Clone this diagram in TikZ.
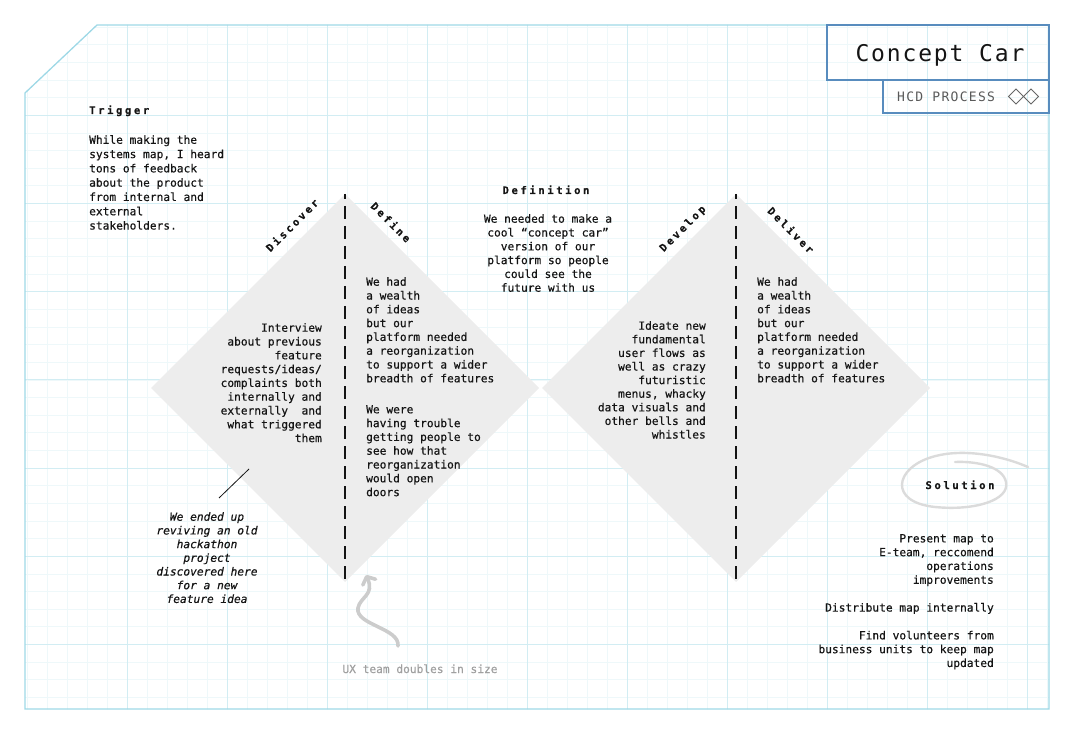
\documentclass[tikz,border=0pt]{standalone}
\usepackage{fontspec}
\usepackage{xcolor}
\setmonofont{DejaVu Sans Mono}[ItalicFont={DejaVu Sans Mono Oblique},BoldFont={DejaVu Sans Mono Bold},FakeBold=0.45]
\newfontfamily\headfont{DejaVu Sans Mono}[BoldFont={DejaVu Sans Mono Bold},LetterSpace=25,FakeBold=0.3]
\newfontfamily\titlefont{DejaVu Sans Mono}[LetterSpace=8]
\newfontfamily\tagfont{DejaVu Sans Mono}[LetterSpace=10]
\usetikzlibrary{arrows.meta}
\definecolor{framecyan}{RGB}{158,216,230}
\definecolor{gridmajor}{RGB}{210,237,243}
\definecolor{gridminor}{RGB}{238,248,250}
\definecolor{boxblue}{RGB}{88,140,190}
\definecolor{diamondgray}{RGB}{237,237,237}
\definecolor{ink}{RGB}{20,20,20}
\definecolor{softgray}{RGB}{160,160,160}
\definecolor{scribble}{RGB}{204,204,204}

\tikzset{
  heading/.style={font=\headfont\bfseries\fontsize{10.5}{12}\selectfont, text=ink, inner sep=0pt},
  body/.style={font=\ttfamily\fontsize{11.2}{13.8}\selectfont, text=ink, inner sep=0pt},
  divider/.style={line width=2.3pt, ink, dash pattern=on 13pt off 7pt, dash phase=8pt},
}

\begin{document}
\begin{tikzpicture}[x=1pt, y=-1pt]
        \useasboundingbox (0,0) rectangle (1077,738);

        % Raster
        \begin{scope}
            \clip (97,25) -- (1049,25) -- (1049,709) -- (25,709) -- (25,93) -- cycle;
            \foreach \gx in {27,47,...,1047} {
                \draw[gridminor, line width=0.6pt] (\gx,0) -- (\gx,738);
            }
            \foreach \gy in {-2,...,40} {
                \draw[gridminor, line width=0.6pt] (0,{27+17.64*\gy}) -- (1077,{27+17.64*\gy});
            }
            \foreach \gx in {127,227,...,1027} {
                \draw[gridmajor, line width=0.8pt] (\gx,0) -- (\gx,738);
            }
            \foreach \gy in {1,...,7} {
                \draw[gridmajor, line width=0.8pt] (0,{27+88.2*\gy}) -- (1077,{27+88.2*\gy});
            }
        \end{scope}

        % Kader
        \draw[framecyan, line width=1.3pt] (97,25) -- (1049,25) -- (1049,709) -- (25,709) -- (25,93) -- cycle;

        % Ruiten
        \coordinate (ltop) at (345,194);
        \coordinate (lbot) at (345,582);
        \coordinate (rtop) at (736,194);
        \coordinate (rbot) at (736,582);
        \fill[diamondgray] (ltop) -- (539,388) -- (lbot) -- (151,388) -- cycle;
        \fill[diamondgray] (rtop) -- (930,388) -- (rbot) -- (542,388) -- cycle;
        \draw[divider] (ltop) -- (lbot);
        \draw[divider] (rtop) -- (rbot);

        % Fasen
        \node[heading, rotate=45] (discover) at (292,225) {Discover};
        \node[heading, rotate=-45] (define) at (391,222) {Define};
        \node[heading, rotate=45] (develop) at (683,229) {Develop};
        \node[heading, rotate=-45] (deliver) at (791,230) {Deliver};

        % Titel
        \draw[boxblue, line width=1.2pt] (827,25) rectangle (1049,80);
        \draw[boxblue, line width=1.2pt] (883,80) rectangle (1049,113);
        \node[font=\titlefont\fontsize{23}{26}\selectfont, text=ink, inner sep=0pt, anchor=base] (title) at (940,62) {Concept Car};
        \node[font=\tagfont\fontsize{13}{15}\selectfont, text=black!65, inner sep=0pt, anchor=base west] (tag) at (897,102) {HCD PROCESS};
        \draw[black!60, line width=0.9pt] (1016,89) -- (1023.5,96.5) -- (1016,104) -- (1008.5,96.5) -- cycle;
        \draw[black!60, line width=0.9pt] (1031,89) -- (1038.5,96.5) -- (1031,104) -- (1023.5,96.5) -- cycle;

        % Trigger
        \node[heading, anchor=base west] (trigger) at (89,114) {Trigger};
        \node[body, font=\ttfamily\fontsize{11.2}{14.3}\selectfont, anchor=north west, align=left] (triggertext) at (89,135)
            {While making the\\systems map, I heard\\tons of feedback\\about the product\\from internal and\\external\\stakeholders.};

        % Definition
        \node[heading, anchor=base] (definition) at (546,194) {Definition};
        \node[body, anchor=north, align=center] (definitiontext) at (548,214)
            {We needed to make a\\cool “concept car”\\version of our\\platform so people\\could see the\\future with us};

        % Teksten in de ruiten
        \node[body, anchor=north east, align=right] (discovertext) at (322,323)
            {Interview\\about previous\\feature\\requests/ideas/\\complaints both\\internally and\\externally\ \ and\\what triggered\\them};
        \node[body, anchor=north west, align=left] (definetext) at (366,277)
            {We had\\a wealth\\of ideas\\but our\\platform needed\\a reorganization\\to support a wider\\breadth of features\\[17.2pt]We were\\having trouble\\getting people to\\see how that\\reorganization\\would open\\doors};
        \node[body, font=\ttfamily\fontsize{11.2}{13.6}\selectfont, anchor=north east, align=right] (developtext) at (706,321)
            {Ideate new\\fundamental\\user flows as\\well as crazy\\futuristic\\menus, whacky\\data visuals and\\other bells and\\whistles};
        \node[body, anchor=north west, align=left] (delivertext) at (757,277)
            {We had\\a wealth\\of ideas\\but our\\platform needed\\a reorganization\\to support a wider\\breadth of features};

        % Notitie hackathon
        \node[body, font=\ttfamily\itshape\fontsize{11.2}{13.7}\selectfont, anchor=north, align=center] (hackathon) at (207,512)
            {We ended up\\reviving an old\\hackathon\\project\\discovered here\\for a new\\feature idea};
        \coordinate (notefoot) at (219,498);
        \coordinate (notehead) at (249,469);
        \draw[ink, line width=0.8pt] (notefoot) -- (notehead);

        % UX team
        \node[body, text=softgray, anchor=base] (uxteam) at (420,673) {UX team doubles in size};
        \coordinate (uxtail) at (398,646);
        \coordinate (uxtip) at (366,575);
        \draw[scribble, line width=3.6pt, line cap=round, -{Straight Barb[length=6pt, width=14pt, round]}]
            (uxtail) .. controls (400,628) and (355,625) .. (358,608) .. controls (360,597) and (375,595) .. (uxtip);

        % Solution
        \draw[scribble!70, line width=2.4pt, line cap=round]
            (1028,467) .. controls (1000,455) and (962,448) .. (932,457)
            .. controls (895,468) and (888,502) .. (935,507)
            .. controls (975,511) and (1010,500) .. (1006,482)
            .. controls (1003,467) and (978,461) .. (955,462);
        \node[heading, anchor=base] (solution) at (960,489) {Solution};
        \node[body, anchor=north east, align=right] (solutiontext) at (994,534)
            {Present map to\\E-team, reccomend\\operations\\improvements\\[14pt]Distribute map internally\\[14pt]Find volunteers from\\business units to keep map\\updated};
    \end{tikzpicture}
\end{document}
